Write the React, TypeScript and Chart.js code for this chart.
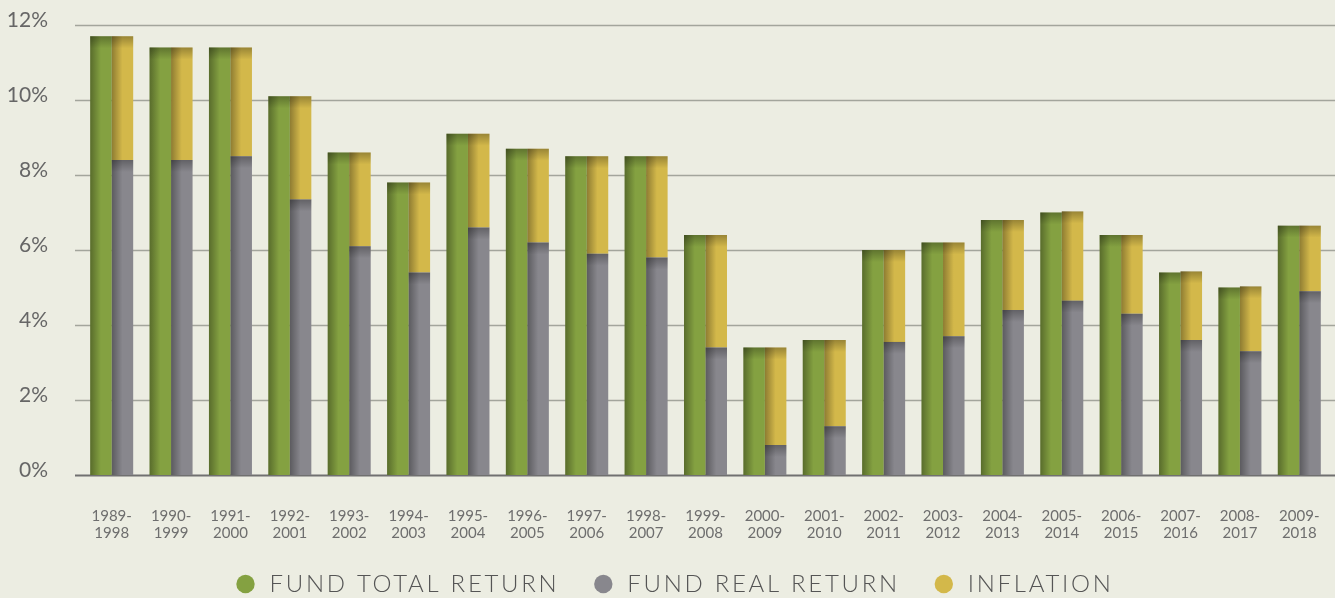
import React, { useEffect, useRef } from 'react';
import { Chart, registerables } from 'chart.js';

Chart.register(...registerables);

const categories = [
  '1989-1998', '1990-1999', '1991-2000', '1992-2001', '1993-2002', '1994-2003', '1995-2004',
  '1996-2005', '1997-2006', '1998-2007', '1999-2008', '2000-2009', '2001-2010', '2002-2011',
  '2003-2012', '2004-2013', '2005-2014', '2006-2015', '2007-2016', '2008-2017', '2009-2018',
];
const totalReturn = [11.7, 11.4, 11.4, 10.1, 8.6, 7.8, 9.1, 8.7, 8.5, 8.5, 6.4, 3.4, 3.6, 6.0, 6.2, 6.8, 7.0, 6.4, 5.4, 5.0, 6.65];
const realReturn = [8.4, 8.4, 8.5, 7.35, 6.1, 5.4, 6.6, 6.2, 5.9, 5.8, 3.4, 0.8, 1.3, 3.55, 3.7, 4.4, 4.65, 4.3, 3.6, 3.3, 4.9];
const inflation = [3.3, 3.0, 2.9, 2.75, 2.5, 2.4, 2.5, 2.5, 2.6, 2.7, 3.0, 2.6, 2.3, 2.45, 2.5, 2.4, 2.38, 2.1, 1.83, 1.73, 1.75];
const seriesLabels = ['FUND TOTAL RETURN', 'FUND REAL RETURN', 'INFLATION'];
const yTickValues = [0, 2, 4, 6, 8, 10, 12];

const BG = '#ecede2';
const GREEN = '#84a141';
const GRAY = '#88878d';
const GOLD = '#d3b84a';

const bgPlugin = {
  id: 'bgFill',
  beforeDraw(chart: any) {
    const { ctx, width, height } = chart;
    ctx.save();
    ctx.fillStyle = BG;
    ctx.fillRect(0, 0, width, height);
    ctx.restore();
  },
};

const gridPlugin = {
  id: 'customGrid',
  beforeDatasetsDraw(chart: any) {
    const { ctx, width } = chart;
    const y = chart.scales.y;
    ctx.save();
    y.ticks.forEach((t: any) => {
      const py = Math.round(y.getPixelForValue(t.value)) + 0.5;
      ctx.beginPath();
      ctx.strokeStyle = t.value === 0 ? '#707070' : '#a3a59c';
      ctx.lineWidth = t.value === 0 ? 2 : 1.6;
      ctx.moveTo(75, py);
      ctx.lineTo(width, py);
      ctx.stroke();
    });
    ctx.restore();
  },
};

const shadePlugin = {
  id: 'barShade',
  afterDatasetsDraw(chart: any) {
    const { ctx } = chart;
    ctx.save();
    chart.data.datasets.forEach((_: any, di: number) => {
      const meta = chart.getDatasetMeta(di);
      meta.data.forEach((el: any) => {
        const { x, y, base, width } = el.getProps(['x', 'y', 'base', 'width'], true);
        const left = x - width / 2;
        const top = Math.min(y, base);
        const h = Math.abs(base - y);
        if (h <= 0) return;
        const gh = ctx.createLinearGradient(left, 0, left + width, 0);
        gh.addColorStop(0, 'rgba(0,0,0,0.33)');
        gh.addColorStop(0.5, 'rgba(0,0,0,0)');
        gh.addColorStop(1, 'rgba(0,0,0,0)');
        ctx.fillStyle = gh;
        ctx.fillRect(left, top, width, h);
        const sh = Math.min(12, h);
        const gv = ctx.createLinearGradient(0, top, 0, top + sh);
        gv.addColorStop(0, 'rgba(0,0,0,0.28)');
        gv.addColorStop(1, 'rgba(0,0,0,0)');
        ctx.fillStyle = gv;
        ctx.fillRect(left, top, width, sh);
      });
    });
    ctx.restore();
  },
};

const legendSpacingPlugin = {
  id: 'legendSpacing',
  beforeLayout(chart: any) {
    const lg = chart.legend;
    if (lg && !lg.__wrapped) {
      lg.__wrapped = true;
      const origFit = lg.fit;
      const origDraw = lg.draw;
      lg.fit = function (...args: any[]) {
        const c = this.ctx;
        c.save();
        c.letterSpacing = '2.7px';
        const r = origFit.apply(this, args);
        c.restore();
        return r;
      };
      lg.draw = function (...args: any[]) {
        const c = this.ctx;
        c.save();
        c.letterSpacing = '2.7px';
        c.translate(9, 0);
        const r = origDraw.apply(this, args);
        c.restore();
        return r;
      };
    }
  },
};

export default function App() {
  const ref = useRef<HTMLCanvasElement | null>(null);

  useEffect(() => {
    document.body.style.margin = '0';
    document.body.style.background = BG;
    if (!ref.current) return;
    const chart = new Chart(ref.current, {
      type: 'bar',
      data: {
        labels: categories,
        datasets: [
          { label: seriesLabels[0], data: totalReturn, backgroundColor: GREEN, stack: 'total', borderWidth: 0 },
          { label: seriesLabels[1], data: realReturn, backgroundColor: GRAY, stack: 'split', borderWidth: 0 },
          { label: seriesLabels[2], data: inflation, backgroundColor: GOLD, stack: 'split', borderWidth: 0 },
        ],
      },
      options: {
        responsive: false,
        animation: false,
        devicePixelRatio: 1,
        datasets: { bar: { categoryPercentage: 0.724, barPercentage: 1.0 } },
        layout: { padding: { left: 0, right: 6, top: 25, bottom: -8 } },
        plugins: {
          tooltip: { enabled: false },
          legend: {
            position: 'bottom',
            labels: {
              usePointStyle: true,
              pointStyle: 'circle',
              boxWidth: 24,
              boxHeight: 13,
              padding: 32,
              color: '#555555',
              font: { family: 'Lato', size: 24, weight: '300' as any },
            },
          },
        },
        scales: {
          x: {
            stacked: true,
            grid: { display: false, drawTicks: false },
            border: { display: false },
            ticks: {
              color: '#6e6e6e',
              padding: 32,
              autoSkip: false,
              maxRotation: 0,
              font: { family: 'Lato', size: 15, lineHeight: 1.18 },
              callback: (_v: any, i: number) => {
                const [a, b] = categories[i].split('-');
                return [a + '-', b];
              },
            },
            afterFit: (s: any) => {
              s.height = 65;
              s.paddingLeft = 0;
              s.paddingRight = 0;
            },
          },
          y: {
            stacked: true,
            min: 0,
            max: 12,
            afterBuildTicks: (s: any) => {
              s.ticks = yTickValues.map((v) => ({ value: v }));
            },
            grid: { display: false, drawTicks: false },
            border: { display: false },
            ticks: {
              color: '#666666',
              padding: 34,
              labelOffset: -5,
              font: { family: 'Lato', size: 21 },
              callback: (v: any) => v + '%',
            },
            afterFit: (s: any) => {
              s.width = 82;
              s.paddingTop = 0;
              s.paddingBottom = 0;
            },
          },
        },
      },
      plugins: [bgPlugin, gridPlugin, shadePlugin, legendSpacingPlugin],
    });
    return () => chart.destroy();
  }, []);

  return (
    <div style={{ width: 1335, height: 598, background: BG }}>
      <canvas ref={ref} width={1335} height={598} style={{ display: 'block' }} />
    </div>
  );
}
